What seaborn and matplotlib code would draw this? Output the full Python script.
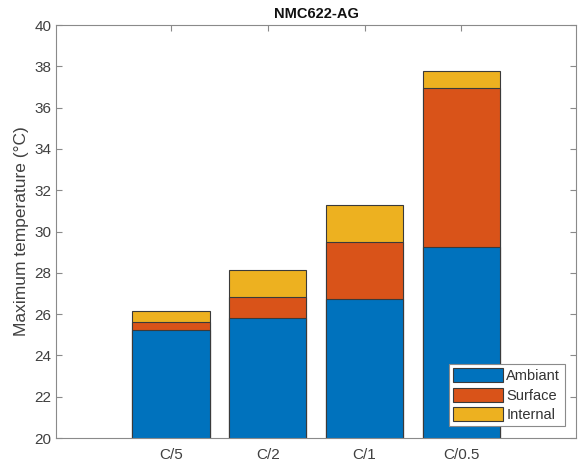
import numpy as np
import pandas as pd
import matplotlib
matplotlib.use('Agg')
import matplotlib.pyplot as plt
import seaborn as sns

# Data (top of each stacked segment, degC)
rates = ['C/5', 'C/2', 'C/1', 'C/0.5']
ambient = [25.25, 25.8, 26.75, 29.25]
surface = [25.6, 26.85, 29.5, 36.97]
internal = [26.17, 28.15, 31.27, 37.8]

series = ['Ambiant', 'Surface', 'Internal']
colors = ['#0072BD', '#D95319', '#EDB120']

df = pd.DataFrame({'rate': rates, 'Ambiant': ambient,
                   'Surface': surface, 'Internal': internal})

sns.set_style('white')
plt.rcParams['font.family'] = ['Liberation Sans', 'DejaVu Sans']

fig = plt.figure(figsize=(5.78, 4.65), dpi=100)
ax = fig.add_axes([0.097, 0.058, 0.9, 0.888])

# draw tallest first so the lower segments sit on top
for name, col in reversed(list(zip(series, colors))):
    sns.barplot(data=df, x='rate', y=name, color=col, width=0.8,
                edgecolor='#3a3a3a', linewidth=0.8, saturation=1,
                label=name, ax=ax)

ax.set_xlim(-1.19, 4.19)
ax.set_ylim(20, 40)
ax.set_yticks(np.arange(20, 41, 2))
ax.set_xlabel('')
ax.set_ylabel('Maximum temperature (°C)', fontsize=12.5, color='#404040', labelpad=4)
ax.set_title('NMC622-AG', fontsize=10.5, fontweight='bold', color='#111111', pad=5)

for s in ax.spines.values():
    s.set_visible(True)
    s.set_color('#8a8a8a')
    s.set_linewidth(0.8)
ax.tick_params(direction='in', length=4, width=0.8, color='#8a8a8a',
               labelcolor='#404040', labelsize=11, top=True, right=True,
               left=True, bottom=True)
ax.tick_params(axis='x', pad=7)

handles, labels = ax.get_legend_handles_labels()
order = [labels.index(n) for n in series]
leg = ax.legend([handles[i] for i in order], series, loc='lower right',
                fontsize=10.5, frameon=True, fancybox=False, framealpha=1,
                edgecolor='#8a8a8a', handlelength=3.4, handleheight=1.1,
                handletextpad=0.25, labelspacing=0.3, borderpad=0.3,
                borderaxespad=0.8, labelcolor='#333333')
leg.get_frame().set_linewidth(0.8)

plt.savefig('out.png', dpi=100)
